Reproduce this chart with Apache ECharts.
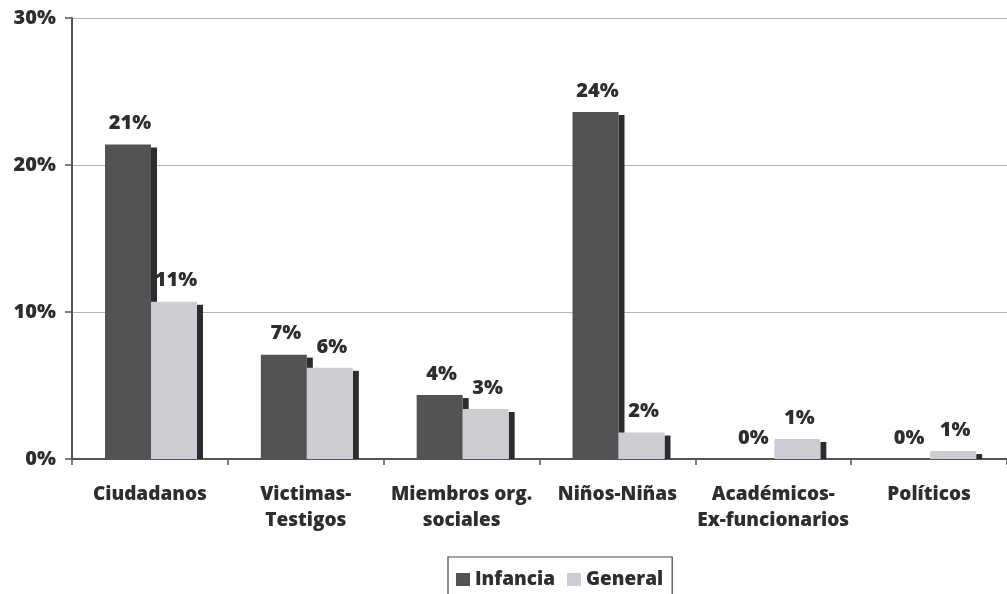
<!DOCTYPE html>
<html><head><meta charset="utf-8">
<script src="https://cdn.jsdelivr.net/npm/echarts@6/dist/echarts.min.js"></script>
<style>html,body{margin:0;padding:0;background:#fff}#c{width:1007px;height:594px}</style>
</head><body><div id="c"></div>
<script>
const categories = ['Ciudadanos', 'Victimas-\nTestigos', 'Miembros org.\nsociales', 'Niños-Niñas', 'Académicos-\nEx-funcionarios', 'Políticos'];
const infancia = [21.4, 7.1, 4.35, 23.6, 0, 0];
const general = [10.7, 6.2, 3.4, 1.8, 1.36, 0.54];
const yTicks = [0, 10, 20, 30];

const txt = '#2e2d2f';
const font = '"Open Sans", "Noto Sans", sans-serif';
const FW = 800;
const BAR_W = 46, SH_W = 6, SH_DY = 3, LEAD = 33;
const chart = echarts.init(document.getElementById('c'));

function makeRender(slot, color) {
  return function (params, api) {
    const idx = api.value(0), val = api.value(1);
    const base = api.coord([idx, 0]);
    const top = api.coord([idx, val]);
    const band = api.size([1, 0])[0];
    const x = base[0] - band / 2 + LEAD + slot * BAR_W;
    const h = base[1] - top[1];
    const children = [];
    if (h > SH_DY) {
      children.push({ type: 'rect', shape: { x: x + BAR_W, y: top[1] + SH_DY, width: SH_W, height: h - SH_DY },
        style: { fill: '#2c2c2e' } });
    }
    children.push({ type: 'rect', shape: { x: x, y: top[1], width: BAR_W, height: h }, style: { fill: color } });
    children.push({ type: 'text', style: {
      text: Math.round(val) + '%', x: x + BAR_W / 2 + 2, y: top[1] - 11,
      align: 'center', verticalAlign: 'bottom', fill: txt,
      font: FW + ' 20px ' + font } });
    return { type: 'group', children: children };
  };
}

chart.setOption({
  animation: false,
  grid: { left: 72, top: 18, bottom: 135, right: -7, containLabel: false },
  legend: {
    top: 557, left: 448, itemWidth: 14, itemHeight: 13, itemGap: 12,
    borderColor: '#444', borderWidth: 1.2, padding: [13, 9, 20, 8], borderRadius: 0,
    icon: 'rect',
    textStyle: { color: txt, fontFamily: font, fontWeight: FW, fontSize: 19, padding: [0, 0, 0, 0] },
    data: ['Infancia', 'General']
  },
  xAxis: {
    type: 'category', data: categories,
    axisLine: { lineStyle: { color: '#555', width: 2 } },
    axisTick: { show: true, length: 6, lineStyle: { color: '#555', width: 1.5 } },
    axisLabel: { color: txt, fontFamily: font, fontWeight: FW, fontSize: 19, lineHeight: 26, margin: 23, interval: 0 }
  },
  yAxis: {
    type: 'value', min: 0, max: 30, interval: 10,
    axisLine: { show: true, lineStyle: { color: '#555', width: 2 } },
    axisTick: { show: true, length: 7, lineStyle: { color: '#555', width: 1.5 } },
    splitLine: { lineStyle: { color: '#b4b4bc', width: 1.2 } },
    axisLabel: { color: txt, fontFamily: font, fontWeight: FW, fontSize: 20, margin: 16,
      formatter: v => yTicks.includes(v) ? v + '%' : '' }
  },
  series: [
    { name: 'Infancia', type: 'custom', data: infancia.map((v, i) => [i, v]),
      itemStyle: { color: '#545254' }, renderItem: makeRender(0, '#545254'), z: 3 },
    { name: 'General', type: 'custom', data: general.map((v, i) => [i, v]),
      itemStyle: { color: '#cdced3' }, renderItem: makeRender(1, '#cdced3'), z: 4 }
  ]
});
</script></body></html>
